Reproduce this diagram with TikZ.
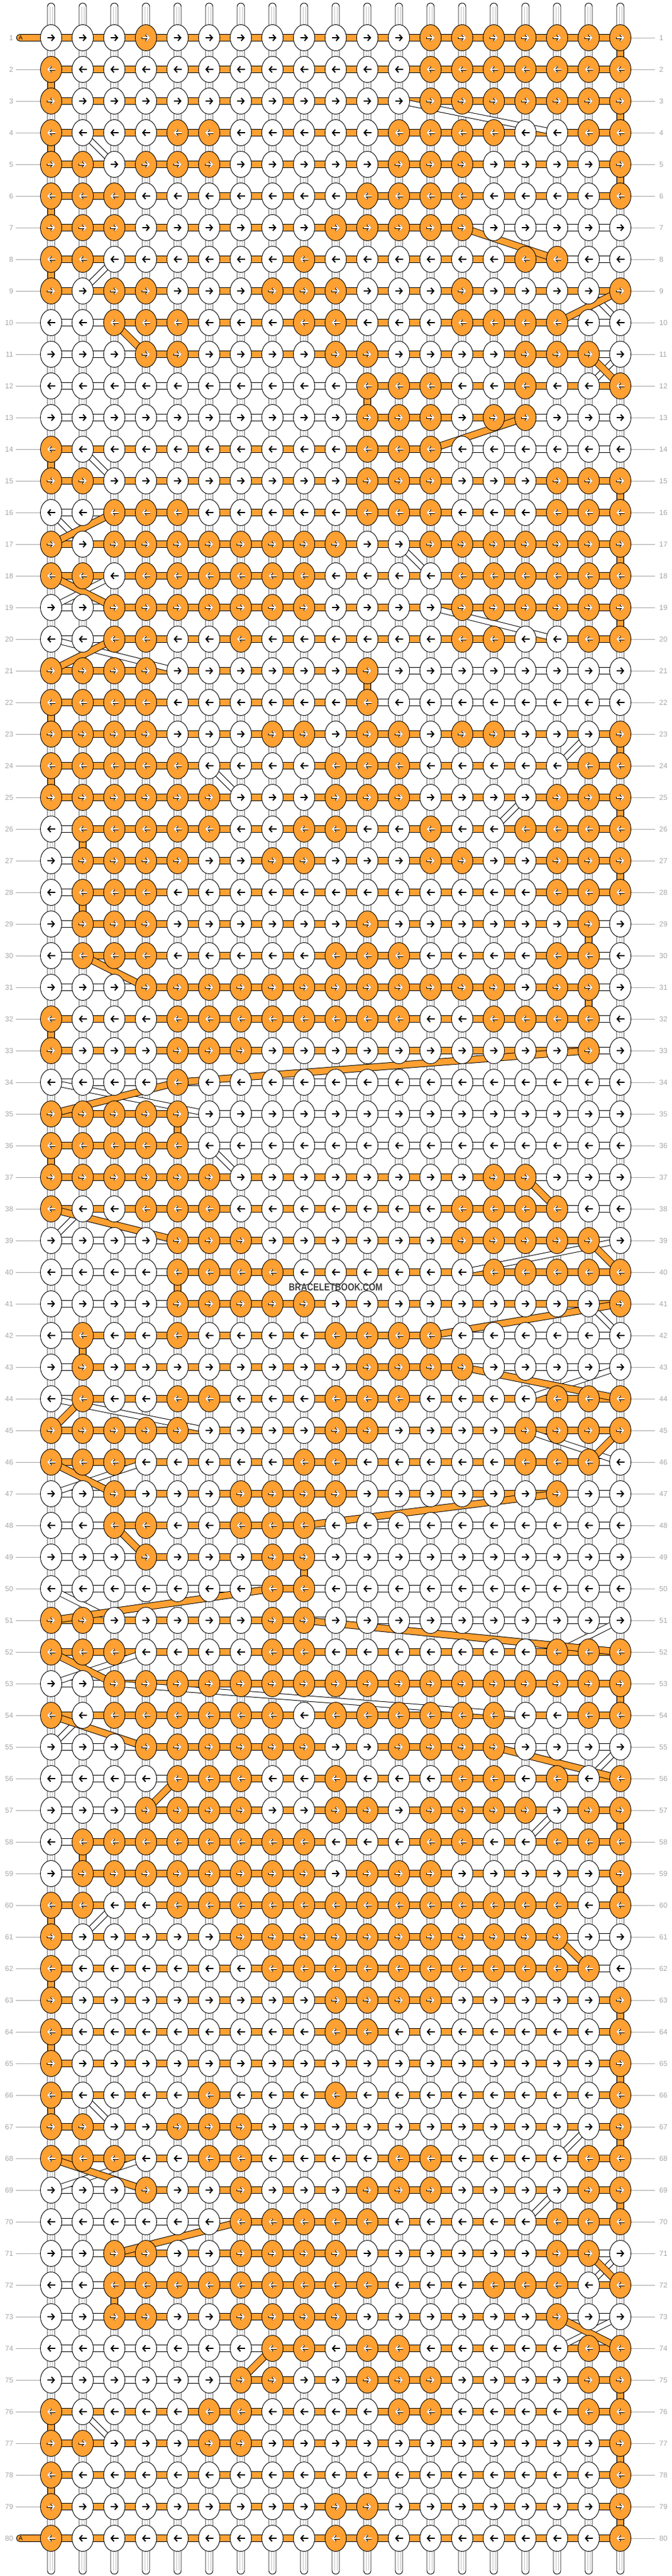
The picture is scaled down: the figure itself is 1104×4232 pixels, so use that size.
\documentclass[tikz,border=0pt]{standalone}
\usepackage{fontspec}
\setmainfont{Liberation Sans}
\usetikzlibrary{shapes.geometric,arrows.meta}

\definecolor{thread}{HTML}{FFA032}
\definecolor{numgray}{HTML}{A6A6A6}
\definecolor{strgray}{HTML}{C4C4C4}
\definecolor{markgray}{HTML}{3F3F3F}

% row / first and last knot of the orange thread / knot colours (1 = orange)
\def\rowdata{%
1/1/19/{0,0,0,1,0,0,0,0,0,0,0,0,1,1,1,1,1,1,1},%
2/1/19/{1,0,0,0,0,0,0,0,0,0,0,0,1,1,1,1,1,1,1},%
3/1/19/{1,0,0,0,0,0,0,0,0,0,0,0,1,1,1,1,1,1,1},%
4/1/19/{1,0,0,0,1,1,0,0,0,0,0,1,1,1,1,0,0,1,1},%
5/1/19/{1,1,0,1,1,1,0,0,0,0,0,1,1,1,0,0,0,0,1},%
6/1/19/{1,1,1,0,0,0,0,0,0,0,1,1,1,1,0,0,0,0,1},%
7/1/14/{1,1,1,0,0,0,0,0,0,1,1,1,1,1,0,0,0,0,0},%
8/1/17/{1,1,0,0,0,0,0,0,1,0,0,0,0,0,0,1,1,0,0},%
9/1/19/{1,0,1,1,0,0,0,1,1,1,0,0,0,1,0,0,0,0,1},%
10/3/17/{0,0,1,1,1,0,0,0,1,1,0,0,0,1,1,1,1,0,0},%
11/4/18/{0,0,0,1,1,0,0,0,0,1,1,0,0,0,0,1,1,1,0},%
12/11/19/{0,0,0,0,0,0,0,0,0,0,1,1,1,0,0,1,0,0,1},%
13/11/16/{0,0,0,0,0,0,0,0,0,0,1,1,1,0,1,1,0,0,0},%
14/1/13/{1,0,0,0,0,0,0,0,0,0,1,1,1,0,0,0,0,0,0},%
15/1/19/{1,1,0,0,0,0,0,0,0,0,1,1,1,0,0,0,1,1,1},%
16/3/19/{0,0,1,1,1,0,0,0,0,0,1,1,1,0,0,0,1,1,1},%
17/1/19/{1,0,1,1,1,1,1,1,1,1,0,0,1,1,1,1,1,1,1},%
18/1/19/{1,1,0,1,1,1,1,1,1,0,0,0,0,1,1,1,1,1,1},%
19/3/19/{0,0,1,1,1,1,1,1,1,0,0,0,0,1,1,1,1,1,1},%
20/3/19/{0,0,1,1,0,0,1,0,0,0,0,0,0,1,1,0,0,1,1},%
21/1/11/{1,1,1,1,0,0,0,0,0,0,1,0,0,0,0,0,0,0,0},%
22/1/11/{1,1,1,1,0,0,0,0,0,0,1,0,0,0,0,0,0,0,0},%
23/1/19/{1,1,1,1,0,0,0,1,1,0,1,1,0,1,1,0,0,0,1},%
24/1/19/{1,1,1,1,1,0,0,0,0,1,1,1,0,0,0,0,0,1,1},%
25/1/19/{1,1,1,1,1,1,0,0,0,1,1,1,0,0,0,0,1,1,1},%
26/2/19/{0,1,1,1,1,1,0,0,1,1,0,0,1,0,0,1,1,1,1},%
27/2/19/{0,1,1,1,1,0,0,1,1,0,0,0,1,1,0,0,1,1,1},%
28/2/19/{0,1,1,1,0,0,0,0,0,0,0,0,0,0,0,0,1,1,1},%
29/2/18/{0,1,1,1,0,0,0,0,0,0,1,0,0,0,0,0,0,1,0},%
30/2/18/{0,1,1,1,0,0,0,0,0,1,1,1,0,0,0,0,1,1,0},%
31/4/18/{0,0,0,1,1,1,1,1,1,1,1,1,1,1,1,0,1,1,0},%
32/1/18/{1,0,0,0,1,1,1,1,1,1,1,1,0,0,1,1,1,1,0},%
33/1/18/{1,0,0,0,1,1,1,0,0,0,0,0,0,0,0,0,0,1,0},%
34/5/5/{0,0,0,0,1,0,0,0,0,0,0,0,0,0,0,0,0,0,0},%
35/1/5/{1,1,1,1,1,0,0,0,0,0,0,0,0,0,0,0,0,0,0},%
36/1/5/{1,1,1,1,1,0,0,0,0,0,0,0,0,0,0,0,0,0,0},%
37/1/16/{1,1,1,1,1,1,0,0,0,0,0,0,0,0,1,1,0,0,0},%
38/1/17/{1,0,0,1,1,1,0,0,0,0,0,0,0,1,1,1,1,0,0},%
39/5/18/{0,0,0,0,1,1,1,0,0,0,0,0,0,1,1,1,1,1,0},%
40/5/19/{0,0,0,0,1,1,1,1,0,0,0,0,0,0,1,1,1,1,1},%
41/5/19/{0,0,0,0,1,1,1,1,1,0,0,0,0,0,0,0,0,0,1},%
42/2/13/{0,1,0,0,1,0,0,0,0,1,1,1,1,0,0,0,0,0,0},%
43/2/14/{0,1,0,0,0,0,0,0,0,0,1,1,1,1,0,0,0,0,0},%
44/2/19/{0,1,0,0,1,1,0,0,0,1,1,1,0,0,0,0,1,1,1},%
45/1/19/{1,1,1,1,1,0,0,0,0,1,1,0,0,0,0,1,1,1,1},%
46/1/18/{1,1,1,0,0,0,0,0,1,1,0,0,0,0,0,1,1,1,0},%
47/3/17/{0,0,1,0,0,0,1,1,1,1,0,0,0,0,0,0,1,0,0},%
48/3/9/{0,0,1,1,0,0,1,1,1,0,0,0,0,0,0,0,0,0,0},%
49/4/9/{0,0,0,1,0,0,0,1,1,0,0,0,0,0,0,0,0,0,0},%
50/8/9/{0,0,0,0,0,0,0,1,1,0,0,0,0,0,0,0,0,0,0},%
51/1/9/{1,1,0,0,0,0,0,1,1,0,0,0,0,0,0,0,0,0,0},%
52/1/19/{1,1,1,0,0,0,0,1,1,0,0,0,0,0,0,0,1,1,1},%
53/3/19/{0,0,1,1,1,1,1,1,1,1,1,1,1,1,1,1,1,1,1},%
54/1/19/{1,0,1,1,1,1,1,1,0,1,1,1,1,1,1,0,0,1,1},%
55/4/15/{0,0,0,1,1,1,1,1,1,0,0,1,1,1,1,0,0,0,0},%
56/5/19/{0,0,0,0,1,1,1,0,0,1,0,0,0,1,1,0,1,0,1},%
57/4/19/{0,0,0,1,1,1,1,0,0,1,1,0,1,1,1,1,0,1,1},%
58/2/19/{0,1,1,1,1,1,1,1,1,0,0,0,1,1,0,0,1,1,1},%
59/2/19/{0,1,1,1,1,1,1,1,1,0,1,1,1,0,0,0,0,0,1},%
60/1/19/{1,1,0,0,1,1,1,1,1,1,1,1,1,1,1,1,1,0,1},%
61/1/17/{1,0,0,0,0,0,1,1,1,1,1,1,1,1,1,1,1,0,0},%
62/1/18/{1,0,0,0,0,0,0,1,1,1,1,1,1,1,1,1,1,1,0},%
63/1/19/{1,0,0,0,0,0,0,0,0,1,1,1,1,0,0,0,0,0,1},%
64/1/19/{1,0,0,0,0,0,0,0,0,1,1,0,0,0,0,0,0,0,1},%
65/1/19/{1,0,0,0,0,0,0,0,0,0,0,0,0,0,0,0,0,0,1},%
66/1/19/{1,0,0,0,0,1,0,0,0,1,0,0,0,0,0,0,0,0,1},%
67/1/19/{1,1,0,0,1,1,1,0,0,0,0,0,0,0,0,0,0,0,1},%
68/1/19/{1,1,1,0,0,1,1,0,0,0,0,1,1,0,0,0,0,1,1},%
69/4/19/{0,0,0,1,0,0,1,0,0,0,1,1,1,0,0,0,0,1,1},%
70/7/19/{0,0,0,0,0,0,1,1,1,1,1,0,0,0,0,0,1,1,1},%
71/3/18/{0,0,1,1,0,0,1,1,1,1,0,0,0,0,0,0,1,1,0},%
72/3/19/{0,0,1,1,1,1,1,1,1,1,1,0,0,0,1,1,1,0,1},%
73/3/17/{0,0,1,1,0,0,1,1,1,1,0,0,0,0,0,0,1,0,0},%
74/8/19/{0,0,0,0,0,0,0,1,1,0,1,1,0,0,0,0,0,1,1},%
75/7/19/{0,0,0,0,0,0,1,1,0,0,1,1,1,0,0,0,0,1,1},%
76/1/19/{1,0,0,0,0,1,1,0,0,0,0,1,1,0,0,0,0,1,1},%
77/1/19/{1,1,0,0,0,1,1,0,0,0,0,0,0,0,0,0,0,0,1},%
78/1/19/{1,0,0,0,0,0,0,0,0,0,0,0,0,0,0,0,0,0,1},%
79/1/19/{1,0,0,0,0,0,0,0,0,1,1,0,0,0,0,0,0,0,1},%
80/1/19/{1,0,0,0,0,0,0,0,0,1,1,0,0,0,0,0,0,0,1}%
}

\tikzset{
  knot/.style={ellipse,draw,line width=0.9pt,minimum width=35pt,minimum height=43pt,inner sep=0pt},
  knot0/.style={knot,fill=white},
  knot1/.style={knot,fill=thread},
  seg/.style={draw,line width=0.9pt},
  bandline/.style={line width=12pt},
  bandfill/.style={thread,line width=10pt},
  strline/.style={line width=10pt},
  strfill/.style={white,line width=8pt},
  num/.style={numgray,font=\fontsize{12}{12}\selectfont,inner sep=0pt},
  tick/.style={numgray,line width=0.8pt},
  arrblack/.style={line width=2pt,-{Straight Barb[length=4.5pt,width=10pt]}},
  arrrim/.style={line width=3pt,-{Straight Barb[length=4.5pt,width=10pt]}},
  arrwhite/.style={white,line width=1.9pt,-{Straight Barb[length=4.5pt,width=10pt]}}
}

\begin{document}
\begin{tikzpicture}[x=1pt,y=-1pt]
	\useasboundingbox (0,0) rectangle (1104,4232);

	%knot places
	\foreach \r in {1,...,80}
		\foreach \c in {1,...,19}
			\coordinate (p-\r-\c) at ({32+52*\c},{10+52*\r});

	%strings running down
	\foreach \c in {1,...,19} {
		\coordinate (top-\c) at ({32+52*\c},5);
		\coordinate (bot-\c) at ({32+52*\c},4229);
		\draw[fill=white,line width=0.9pt,rounded corners=6pt] ([xshift=-6pt]top-\c) rectangle ([xshift=6pt]bot-\c);
		\draw[strgray,line width=0.8pt] ([xshift=-2pt,yshift=-6pt]top-\c) -- ([xshift=-2pt,yshift=6pt]bot-\c)
			([xshift=2pt,yshift=-6pt]top-\c) -- ([xshift=2pt,yshift=6pt]bot-\c);
	}

	%working thread of each row
	\foreach \r/\ra/\rb/\ks in \rowdata {
		\expandafter\xdef\csname lo\r\endcsname{\ra}
		\expandafter\xdef\csname hi\r\endcsname{\rb}
		\draw[seg,fill=white] ([yshift=5.5pt]p-\r-1) rectangle ([yshift=-5.5pt]p-\r-19);
		\ifnum\ra<\rb
			\draw[seg,fill=thread] ([yshift=5.5pt]p-\r-\ra) rectangle ([yshift=-5.5pt]p-\r-\rb);
		\fi
	}

	%white strands moving over
	\foreach \r/\c/\d in {3/12/17,4/2/3,8/3/2,9/18/19,11/19/18,14/2/3,16/1/2,17/12/13,18/3/1,19/13/17,
		20/1/5,23/18/17,24/6/7,25/16/15,34/1/6,36/6/7,38/2/1,39/19/14,41/18/19,43/19/16,44/1/6,
		45/16/19,46/4/1,50/1/3,51/19/17,52/4/1,53/3/16,54/2/1,55/19/18,57/17/16,60/3/2,66/2/3,
		67/18/17,68/4/1,69/17/16,71/19/18,73/19/17,76/2/3} {
		\pgfmathtruncatemacro\s{\r+1}
		\draw[strline] (p-\r-\c) -- (p-\s-\d);
		\draw[strfill] (p-\r-\c) -- (p-\s-\d);
	}

	%orange thread down to the next row
	\foreach \r in {1,...,79} {
		\pgfmathtruncatemacro\s{\r+1}
		\ifodd\r\relax
			\edef\fk{\csname hi\r\endcsname}\edef\tk{\csname hi\s\endcsname}
		\else
			\edef\fk{\csname lo\r\endcsname}\edef\tk{\csname lo\s\endcsname}
		\fi
		\draw[bandline] (p-\r-\fk) -- (p-\s-\tk);
		\draw[bandfill] (p-\r-\fk) -- (p-\s-\tk);
	}

	%row numbers
	\foreach \r in {1,...,80} {
		\node[num,anchor=east] (ln-\r) at (22,{10+52*\r}) {\r};
		\node[num,anchor=west] (rn-\r) at (1084,{10+52*\r}) {\r};
		\draw[tick] ([xshift=-7pt]rn-\r.west) -- (p-\r-19);
		\ifnum\r>1 \ifnum\r<80
			\draw[tick] ([xshift=4pt]ln-\r.east) -- (p-\r-1);
		\fi\fi
	}

	%thread ends
	\foreach \r in {1,80} {
		\draw[seg,fill=thread,rounded corners=5.5pt] (27,{4.5+52*\r}) rectangle (90,{15.5+52*\r});
		\node[font=\fontsize{10}{10}\selectfont,anchor=west,inner sep=0pt] (a-\r) at (30.5,{10+52*\r}) {A};
	}

	\fill[white] (472,2107) rectangle (632,2123);

	%knots
	\foreach \r/\ra/\rb/\ks in \rowdata {
		\ifodd\r\relax
			\def\ax{-6.5}\def\bx{13}\def\cx{-7.1}\def\ex{13.6}
		\else
			\def\ax{6.5}\def\bx{-13}\def\cx{7.1}\def\ex{-13.6}
		\fi
		\foreach \v [count=\c] in \ks {
			\node[knot\v] (k-\r-\c) at (p-\r-\c) {};
			\ifnum\v=1
				\draw[arrrim] (k-\r-\c.center) ++(\cx,0) -- ++(\ex,0);
				\draw[arrwhite] (k-\r-\c.center) ++(\ax,0) -- ++(\bx,0);
			\else
				\draw[arrblack] (k-\r-\c.center) ++(\ax,0) -- ++(\bx,0);
			\fi
		}
	}

	\node[markgray,font=\bfseries\fontsize{16.8}{17}\selectfont,inner sep=0pt] (mark) at (552,2115)
		{\scalebox{0.83}[1]{BRACELETBOOK.COM}};
\end{tikzpicture}
\end{document}
